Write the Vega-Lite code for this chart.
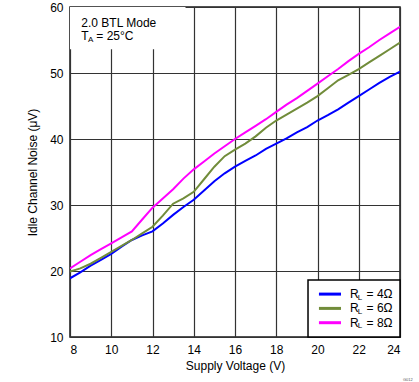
{
  "$schema": "https://vega.github.io/schema/vega-lite/v6.json",
  "autosize": "none",
  "width": 330,
  "height": 330,
  "padding": {"left": 70, "top": 7, "right": 19, "bottom": 45},
  "background": "white",
  "config": {
    "font": "Liberation Sans",
    "view": {"stroke": "#1a1a1a", "strokeWidth": 1.5},
    "axis": {
      "grid": true,
      "gridColor": "#333333",
      "gridWidth": 1.2,
      "gridOpacity": 1,
      "domain": false,
      "ticks": false,
      "labelFont": "Liberation Sans",
      "labelFontSize": 12,
      "labelColor": "#000000",
      "titleFont": "Liberation Sans",
      "titleFontSize": 12,
      "titleFontWeight": "normal",
      "titleColor": "#000000"
    },
    "text": {"font": "Liberation Sans", "color": "#000000", "align": "left", "baseline": "middle"}
  },
  "title": {
    "text": "G012",
    "orient": "bottom",
    "anchor": "end",
    "fontSize": 4,
    "fontWeight": "normal",
    "color": "#555555",
    "offset": 7,
    "dx": 12
  },
  "datasets": {
    "legendRows": [
      {"s": "4", "lab": "= 4Ω"},
      {"s": "6", "lab": "= 6Ω"},
      {"s": "8", "lab": "= 8Ω"}
    ]
  },
  "layer": [
    {
      "data": {"values": [{}]},
      "mark": {"type": "rect", "fill": "white", "stroke": null},
      "encoding": {
        "x": {"datum": 8, "type": "quantitative", "scale": {"domain": [8, 24]}},
        "x2": {"datum": 13.6},
        "y": {"datum": 53.6, "type": "quantitative", "scale": {"domain": [10, 60]}},
        "y2": {"datum": 60}
      }
    },
    {
      "data": {
        "values": [
          {"v": 8, "n": 18.9, "s": "4"}, {"v": 8.5, "n": 19.8, "s": "4"}, {"v": 9, "n": 20.8, "s": "4"}, {"v": 9.5, "n": 21.7, "s": "4"},
          {"v": 10, "n": 22.6, "s": "4"}, {"v": 10.5, "n": 23.7, "s": "4"}, {"v": 11, "n": 24.7, "s": "4"}, {"v": 11.5, "n": 25.4, "s": "4"},
          {"v": 12, "n": 26.0, "s": "4"}, {"v": 12.5, "n": 27.2, "s": "4"}, {"v": 13, "n": 28.5, "s": "4"}, {"v": 13.5, "n": 29.7, "s": "4"},
          {"v": 14, "n": 30.8, "s": "4"}, {"v": 14.5, "n": 32.2, "s": "4"}, {"v": 15, "n": 33.6, "s": "4"}, {"v": 15.5, "n": 34.8, "s": "4"},
          {"v": 16, "n": 35.8, "s": "4"}, {"v": 16.5, "n": 36.7, "s": "4"}, {"v": 17, "n": 37.5, "s": "4"}, {"v": 17.5, "n": 38.5, "s": "4"},
          {"v": 18, "n": 39.3, "s": "4"}, {"v": 18.5, "n": 40.1, "s": "4"}, {"v": 19, "n": 41.0, "s": "4"}, {"v": 19.5, "n": 41.8, "s": "4"},
          {"v": 20, "n": 42.8, "s": "4"}, {"v": 20.5, "n": 43.6, "s": "4"}, {"v": 21, "n": 44.5, "s": "4"}, {"v": 21.5, "n": 45.5, "s": "4"},
          {"v": 22, "n": 46.5, "s": "4"}, {"v": 22.5, "n": 47.5, "s": "4"}, {"v": 23, "n": 48.5, "s": "4"}, {"v": 23.5, "n": 49.4, "s": "4"},
          {"v": 24, "n": 50.2, "s": "4"},
          {"v": 8, "n": 19.9, "s": "6"}, {"v": 8.5, "n": 20.4, "s": "6"}, {"v": 9, "n": 21.1, "s": "6"}, {"v": 9.5, "n": 22.0, "s": "6"},
          {"v": 10, "n": 22.9, "s": "6"}, {"v": 10.5, "n": 23.8, "s": "6"}, {"v": 11, "n": 24.7, "s": "6"}, {"v": 11.5, "n": 25.7, "s": "6"},
          {"v": 12, "n": 26.7, "s": "6"}, {"v": 12.5, "n": 28.4, "s": "6"}, {"v": 13, "n": 30.2, "s": "6"}, {"v": 13.5, "n": 31.0, "s": "6"},
          {"v": 14, "n": 32.0, "s": "6"}, {"v": 14.5, "n": 33.9, "s": "6"}, {"v": 15, "n": 35.8, "s": "6"}, {"v": 15.5, "n": 37.4, "s": "6"},
          {"v": 16, "n": 38.4, "s": "6"}, {"v": 16.5, "n": 39.3, "s": "6"}, {"v": 17, "n": 40.4, "s": "6"}, {"v": 17.5, "n": 41.7, "s": "6"},
          {"v": 18, "n": 42.8, "s": "6"}, {"v": 18.5, "n": 43.7, "s": "6"}, {"v": 19, "n": 44.6, "s": "6"}, {"v": 19.5, "n": 45.5, "s": "6"},
          {"v": 20, "n": 46.5, "s": "6"}, {"v": 20.5, "n": 47.7, "s": "6"}, {"v": 21, "n": 48.9, "s": "6"}, {"v": 21.5, "n": 49.7, "s": "6"},
          {"v": 22, "n": 50.6, "s": "6"}, {"v": 22.5, "n": 51.6, "s": "6"}, {"v": 23, "n": 52.6, "s": "6"}, {"v": 23.5, "n": 53.6, "s": "6"},
          {"v": 24, "n": 54.6, "s": "6"},
          {"v": 8, "n": 20.4, "s": "8"}, {"v": 8.5, "n": 21.4, "s": "8"}, {"v": 9, "n": 22.4, "s": "8"}, {"v": 9.5, "n": 23.3, "s": "8"},
          {"v": 10, "n": 24.2, "s": "8"}, {"v": 10.5, "n": 25.1, "s": "8"}, {"v": 11, "n": 26.0, "s": "8"}, {"v": 11.5, "n": 27.8, "s": "8"},
          {"v": 12, "n": 29.6, "s": "8"}, {"v": 12.5, "n": 31.0, "s": "8"}, {"v": 13, "n": 32.4, "s": "8"}, {"v": 13.5, "n": 34.0, "s": "8"},
          {"v": 14, "n": 35.4, "s": "8"}, {"v": 14.5, "n": 36.6, "s": "8"}, {"v": 15, "n": 37.8, "s": "8"}, {"v": 15.5, "n": 38.9, "s": "8"},
          {"v": 16, "n": 40.0, "s": "8"}, {"v": 16.5, "n": 41.0, "s": "8"}, {"v": 17, "n": 42.0, "s": "8"}, {"v": 17.5, "n": 43.0, "s": "8"},
          {"v": 18, "n": 44.1, "s": "8"}, {"v": 18.5, "n": 45.2, "s": "8"}, {"v": 19, "n": 46.2, "s": "8"}, {"v": 19.5, "n": 47.3, "s": "8"},
          {"v": 20, "n": 48.4, "s": "8"}, {"v": 20.5, "n": 49.5, "s": "8"}, {"v": 21, "n": 50.6, "s": "8"}, {"v": 21.5, "n": 51.8, "s": "8"},
          {"v": 22, "n": 52.9, "s": "8"}, {"v": 22.5, "n": 53.9, "s": "8"}, {"v": 23, "n": 55.0, "s": "8"}, {"v": 23.5, "n": 56.0, "s": "8"},
          {"v": 24, "n": 57.0, "s": "8"}
        ]
      },
      "mark": {"type": "line", "strokeWidth": 2, "clip": true},
      "encoding": {
        "x": {
          "field": "v", "type": "quantitative",
          "scale": {"domain": [8, 24], "nice": false},
          "axis": {"values": [8, 10, 12, 14, 16, 18, 20, 22, 24], "title": "Supply Voltage (V)", "labelPadding": 7, "titlePadding": 5}
        },
        "y": {
          "field": "n", "type": "quantitative",
          "scale": {"domain": [10, 60], "nice": false},
          "axis": {"values": [10, 20, 30, 40, 50, 60], "title": "Idle Channel Noise (μV)", "labelPadding": 7, "titlePadding": 10}
        },
        "color": {
          "field": "s", "type": "nominal",
          "scale": {"domain": ["4", "6", "8"], "range": ["#0000FF", "#718C3A", "#FF00FF"]},
          "legend": null
        }
      }
    },
    {
      "data": {"values": [{}]},
      "mark": {"type": "rect", "fill": "white", "stroke": "#000000", "strokeWidth": 1.5},
      "encoding": {
        "x": {"datum": 19.54, "type": "quantitative"},
        "x2": {"datum": 24},
        "y": {"datum": 10, "type": "quantitative"},
        "y2": {"datum": 18.64}
      }
    },
    {
      "data": {"name": "legendRows"},
      "mark": {"type": "rule", "strokeWidth": 3},
      "encoding": {
        "x": {"datum": 20.07, "type": "quantitative"},
        "x2": {"datum": 21.14},
        "y": {"datum": 16.5, "type": "quantitative"},
        "yOffset": {"field": "s", "type": "nominal", "scale": {"type": "point", "domain": ["4", "6", "8"], "range": [0, 28.6], "padding": 0}},
        "color": {"field": "s", "type": "nominal", "legend": null}
      }
    },
    {
      "data": {"name": "legendRows"},
      "mark": {"type": "text", "fontSize": 12},
      "encoding": {
        "x": {"datum": 21.58, "type": "quantitative"},
        "y": {"datum": 16.5, "type": "quantitative"},
        "yOffset": {"field": "s", "type": "nominal", "scale": {"type": "point", "domain": ["4", "6", "8"], "range": [0, 28.6], "padding": 0}},
        "text": {"datum": "R"}
      }
    },
    {
      "data": {"name": "legendRows"},
      "mark": {"type": "text", "fontSize": 8, "dx": 7.6, "dy": 3.5},
      "encoding": {
        "x": {"datum": 21.58, "type": "quantitative"},
        "y": {"datum": 16.5, "type": "quantitative"},
        "yOffset": {"field": "s", "type": "nominal", "scale": {"type": "point", "domain": ["4", "6", "8"], "range": [0, 28.6], "padding": 0}},
        "text": {"datum": "L"}
      }
    },
    {
      "data": {"name": "legendRows"},
      "mark": {"type": "text", "fontSize": 12, "dx": 16.5},
      "encoding": {
        "x": {"datum": 21.58, "type": "quantitative"},
        "y": {"datum": 16.5, "type": "quantitative"},
        "yOffset": {"field": "s", "type": "nominal", "scale": {"type": "point", "domain": ["4", "6", "8"], "range": [0, 28.6], "padding": 0}},
        "text": {"field": "lab"}
      }
    },
    {
      "data": {"values": [{}]},
      "mark": {"type": "text", "fontSize": 12},
      "encoding": {
        "x": {"datum": 8.55, "type": "quantitative"},
        "y": {"datum": 57.6, "type": "quantitative"},
        "text": {"datum": "2.0 BTL Mode"}
      }
    },
    {
      "data": {"values": [{}]},
      "mark": {"type": "text", "fontSize": 12},
      "encoding": {
        "x": {"datum": 8.55, "type": "quantitative"},
        "y": {"datum": 55.6, "type": "quantitative"},
        "text": {"datum": "T"}
      }
    },
    {
      "data": {"values": [{}]},
      "mark": {"type": "text", "fontSize": 8, "dx": 6.6, "dy": 3.5},
      "encoding": {
        "x": {"datum": 8.55, "type": "quantitative"},
        "y": {"datum": 55.6, "type": "quantitative"},
        "text": {"datum": "A"}
      }
    },
    {
      "data": {"values": [{}]},
      "mark": {"type": "text", "fontSize": 12, "dx": 15},
      "encoding": {
        "x": {"datum": 8.55, "type": "quantitative"},
        "y": {"datum": 55.6, "type": "quantitative"},
        "text": {"datum": "= 25°C"}
      }
    }
  ]
}
